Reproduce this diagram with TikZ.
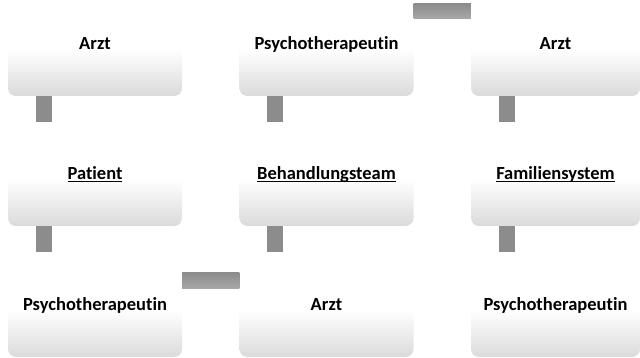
\documentclass[tikz,border=0pt]{standalone}
\usepackage{fontspec}
\setmainfont[Ligatures=NoCommon]{Carlito}
\definecolor{boxbot}{RGB}{218,218,218}
\definecolor{bardark}{RGB}{140,140,140}
\definecolor{barlight}{RGB}{168,168,168}
\pgfdeclareverticalshading{boxshade}{100bp}{color(0bp)=(boxbot); color(25bp)=(boxbot); color(48bp)=(white); color(100bp)=(white)}
\newcommand\ulbox[1]{\underline{\raisebox{0pt}[\height][0pt]{#1}}}
\tikzset{
  box/.style={rounded corners=8pt, shading=boxshade, minimum width=174pt, minimum height=102pt,
    inner sep=0pt, text height=13pt, text depth=4pt,
    font=\fontsize{18.5}{20}\selectfont\bfseries, text=black},
  vbar/.style={fill=bardark, draw=none},
  hbar/.style={top color=bardark, bottom color=barlight, draw=none}
}
\begin{document}
\begin{tikzpicture}[x=1pt,y=-1pt]
\useasboundingbox (0,0) rectangle (640,358);
\fill[white] (0,0) rectangle (640,358);
% row 1
\node[box] (a1) at (95,45) {Arzt};
\node[box] (a2) at (326.5,45) {Psychotherapeutin};
\node[box, minimum width=169pt] (a3) at (555.5,45) {Arzt};
% row 2
\node[box] (b1) at (95,175) {\ulbox{Patient}};
\node[box] (b2) at (326.5,175) {\ulbox{Behandlungsteam}};
\node[box, minimum width=169pt] (b3) at (555.5,175) {\ulbox{Familiensystem}};
% row 3
\node[box] (c1) at (95,306) {Psychotherapeutin};
\node[box] (c2) at (326.5,306) {Arzt};
\node[box, minimum width=169pt] (c3) at (555.5,306) {Psychotherapeutin};
% vertical bars
\foreach \n in {a1,a2,a3,b1,b2,b3}{
  \fill[vbar] ([xshift=28pt]\n.south west) rectangle ([xshift=44pt,yshift=-26pt]\n.south west);
}
% horizontal bars
\fill[hbar] ([yshift=-10pt]a2.north east) rectangle ([yshift=-25pt]a3.north west);
\fill[hbar] ([yshift=-18pt]c1.north east) rectangle ([yshift=-34pt]c2.north west);
\end{tikzpicture}
\end{document}
